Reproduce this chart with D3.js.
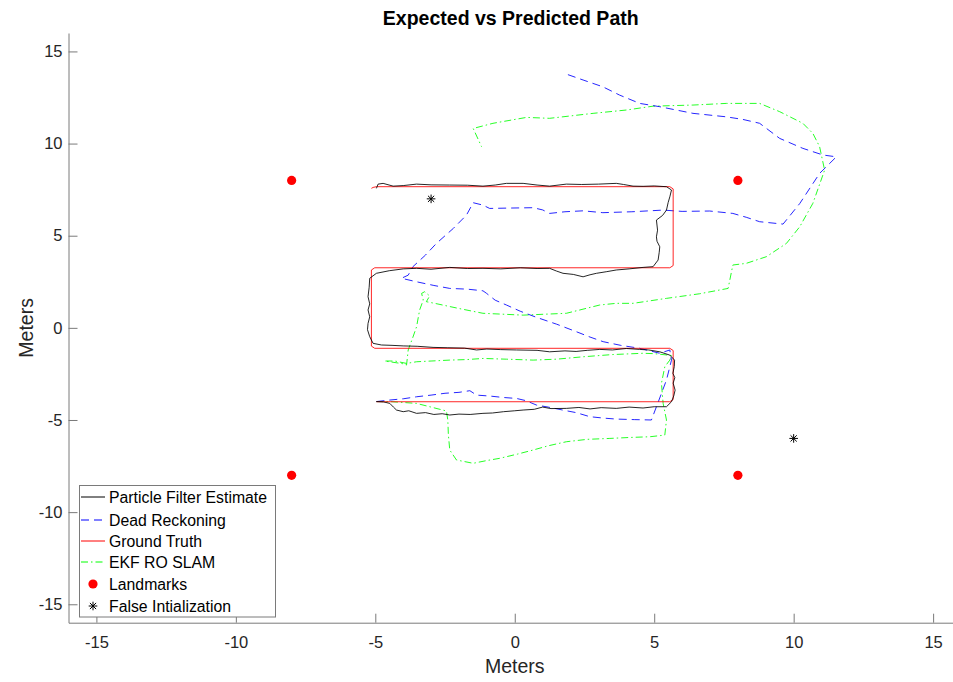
<!DOCTYPE html>
<html>
<head>
<meta charset="utf-8">
<script src="https://cdn.jsdelivr.net/npm/d3@7"></script>
<style>
    body { margin: 0; background: #fff; }
    text { font-family: "Liberation Sans", Arial, sans-serif; }
</style>
</head>
<body>
<div id="chart"></div>
<script>
// values, [x, y] in meters
let groundTruth = [[-4.96,-4.01],[5.56,-4.01],[5.68,-3.89],[5.68,-1.23],[5.56,-1.11],[-5.02,-1.11],[-5.14,-0.99],[-5.14,3.14],[-5.02,3.26],
    [5.56,3.26],[5.68,3.38],[5.68,7.54],[5.56,7.66],[-4.96,7.66],[-5.08,7.62],[-5.14,7.57]];

let particleFilter = [[-4.96,-4.0],[-4.7,-4.02],[-4.48,-4.1],[-4.35,-4.3],[-4.24,-4.46],[-4.0,-4.55],[-3.8,-4.5],[-3.52,-4.64],[-3.2,-4.6],
    [-2.9,-4.7],[-2.6,-4.66],[-2.33,-4.73],[-2.0,-4.68],[-1.6,-4.7],[-1.14,-4.64],[-0.8,-4.62],[-0.4,-4.55],[0.0,-4.5],[0.3,-4.46],
    [0.7,-4.42],[1.0,-4.3],[1.3,-4.38],[1.85,-4.37],[2.3,-4.32],[2.7,-4.4],[3.1,-4.33],[3.64,-4.37],[4.1,-4.3],[4.6,-4.35],[5.0,-4.28],
    [5.44,-4.28],[5.62,-4.01],[5.7,-3.7],[5.75,-3.38],[5.68,-3.0],[5.74,-2.7],[5.67,-2.47],[5.72,-2.1],[5.73,-1.75],[5.56,-1.48],
    [5.2,-1.3],[4.8,-1.2],[4.48,-1.17],[4.0,-1.12],[3.5,-1.2],[3.05,-1.17],[2.6,-1.22],[2.2,-1.28],[1.8,-1.25],[1.25,-1.3],[0.8,-1.22],
    [0.06,-1.2],[-0.5,-1.18],[-1.0,-1.15],[-1.37,-1.2],[-1.8,-1.1],[-2.4,-1.08],[-2.93,-1.06],[-3.5,-1.0],[-4.0,-0.98],[-4.4,-0.95],
    [-4.78,-0.93],[-5.08,-0.84],[-5.2,-0.48],[-5.28,-0.1],[-5.26,0.24],[-5.2,0.6],[-5.26,0.97],[-5.2,1.3],[-5.26,1.69],[-5.22,2.2],
    [-5.2,2.69],[-4.96,2.96],[-4.5,3.1],[-4.0,3.2],[-3.52,3.23],[-3.0,3.18],[-2.33,3.28],[-1.7,3.22],[-1.14,3.23],[-0.5,3.2],[0.2,3.26],
    [0.8,3.22],[1.25,3.23],[1.5,3.08],[1.73,2.96],[2.1,2.9],[2.45,2.77],[2.7,2.88],[2.93,2.96],[3.3,3.05],[3.64,3.14],[4.1,3.2],
    [4.6,3.28],[4.96,3.32],[5.14,3.68],[5.18,4.1],[5.2,4.4],[5.1,4.7],[5.08,4.94],[5.12,5.3],[5.08,5.85],[5.3,6.1],[5.44,6.39],
    [5.5,6.8],[5.56,7.11],[5.62,7.48],[5.44,7.66],[5.0,7.7],[4.6,7.68],[4.24,7.69],[3.9,7.78],[3.64,7.84],[3.0,7.8],[2.4,7.78],
    [1.85,7.8],[1.25,7.69],[0.8,7.75],[0.3,7.84],[-0.3,7.84],[-0.7,7.75],[-1.14,7.69],[-1.7,7.74],[-2.33,7.75],[-3.0,7.76],
    [-3.52,7.8],[-4.0,7.72],[-4.36,7.69],[-4.72,7.84],[-4.9,7.8],[-4.96,7.57]];

let deadReckoning = [[-4.96,-4.0],[-4.5,-3.92],[-4.0,-3.85],[-3.52,-3.74],[-3.0,-3.65],[-2.5,-3.55],[-2.0,-3.5],[-1.61,-3.41],[-1.37,-3.65],
    [-0.9,-3.7],[-0.4,-3.78],[0.06,-3.83],[0.4,-3.95],[0.78,-4.19],[1.2,-4.3],[1.72,-4.46],[2.2,-4.6],[2.69,-4.82],[3.2,-4.9],
    [3.64,-4.95],[4.3,-4.98],[4.9,-5.0],[5.08,-4.28],[5.25,-3.6],[5.44,-2.83],[5.62,-1.75],[5.56,-1.2],[5.2,-1.38],[4.48,-1.11],
    [3.8,-0.95],[3.17,-0.75],[2.7,-0.5],[2.21,-0.21],[1.5,0.2],[0.78,0.57],[0.2,0.9],[-0.3,1.24],[-0.7,1.5],[-1.01,1.87],[-1.14,2.01],
    [-1.7,2.1],[-2.33,2.14],[-2.9,2.3],[-3.52,2.5],[-4.06,2.69],[-3.82,2.86],[-3.65,3.32],[-3.2,3.95],[-2.81,4.58],[-2.2,5.4],
    [-1.73,6.12],[-1.49,6.79],[-1.14,6.66],[-0.9,6.48],[-0.2,6.5],[0.66,6.52],[1.0,6.4],[1.25,6.21],[1.8,6.3],[2.45,6.35],[3.16,6.25],
    [4.2,6.3],[5.32,6.39],[6.0,6.32],[6.99,6.34],[7.82,6.21],[8.3,6.0],[8.78,5.76],[9.62,5.63],[10.22,6.75],[10.93,8.38],[11.05,8.56],
    [11.53,9.28],[11.05,9.38],[10.33,9.74],[9.5,10.28],[8.78,11.1],[8.18,11.31],[7.59,11.45],[6.39,11.64],[5.2,12.0],[4.48,12.18],
    [3.76,12.63],[3.16,13.08],[2.45,13.45],[1.85,13.77]];

let ekfSlam = [[-4.96,-4.0],[-4.5,-4.0],[-4.0,-4.05],[-3.52,-4.1],[-3.0,-4.3],[-2.45,-4.51],[-2.4,-5.0],[-2.38,-5.8],[-2.33,-6.63],
    [-2.09,-7.17],[-1.49,-7.35],[-1.0,-7.2],[-0.54,-7.08],[0.1,-6.85],[0.66,-6.63],[1.2,-6.4],[1.85,-6.18],[2.6,-6.05],[3.41,-6.0],
    [4.1,-5.95],[4.84,-5.91],[5.38,-5.82],[5.44,-5.0],[5.32,-4.1],[5.26,-3.01],[5.38,-2.11],[5.56,-1.75],[5.62,-1.5],[5.0,-1.4],
    [4.6,-1.38],[3.5,-1.45],[2.45,-1.57],[1.5,-1.7],[0.66,-1.75],[-0.3,-1.7],[-1.14,-1.66],[-1.7,-1.72],[-2.33,-1.75],[-3.0,-1.8],
    [-3.52,-1.84],[-3.88,-1.93],[-4.3,-1.8],[-4.66,-1.8],[-4.0,-1.95],[-3.88,-2.02],[-3.82,-1.2],[-3.65,-0.5],[-3.52,0.06],[-3.41,0.97],
    [-3.28,1.51],[-3.34,1.87],[-3.23,1.96],[-3.05,1.73],[-3.17,1.42],[-2.87,1.33],[-2.0,1.05],[-1.14,0.79],[0.3,0.69],[1.85,0.79],
    [3.05,1.24],[3.64,1.33],[4.24,1.33],[5.44,1.6],[6.63,1.85],[7.65,2.14],[7.82,3.41],[8.3,3.5],[9.02,3.86],[9.74,4.58],[10.22,5.49],
    [10.69,6.76],[11.11,8.56],[10.93,9.83],[10.69,10.55],[10.33,11.1],[9.5,11.73],[8.78,12.18],[7.59,12.18],[6.39,12.09],[4.96,12.03],
    [4.0,11.82],[2.81,11.64],[1.25,11.37],[0.42,11.42],[-0.78,11.1],[-1.49,10.82],[-1.19,9.83]];

let landmarks = [[-8, 8], [8, 8], [-8, -8], [8, -8]];
let falseInit = [[-3, 7], [10, -6]];

let tickValues = [-15, -10, -5, 0, 5, 10, 15];
let legendLabels = ['Particle Filter Estimate', 'Dead Reckoning', 'Ground Truth', 'EKF RO SLAM', 'Landmarks', 'False Intialization'];

let margin = {top: 33, right: -8, bottom: 59.3, left: 68.5};
let width = 953 - margin.left - margin.right;
let height = 682 - margin.top - margin.bottom;

let svg = d3.select('#chart')
    .append('svg')
    .attr('width', 953)
    .attr('height', 682);

let g = svg.append('g').attr('transform', 'translate(' + margin.left + ',' + margin.top + ')');

//Scales
let x = d3.scaleLinear().domain([-16, 16]).range([0, width]);
let y = d3.scaleLinear().domain([-16, 16]).range([height, 0]);

//X Axis
let xAxisCall = d3.axisBottom(x).tickValues(tickValues).tickSizeInner(-9).tickSizeOuter(0).tickPadding(14)
    .tickFormat(function (d) { return String(d); });
let xAxis = g.append('g').attr('transform', 'translate(0,' + height + ')').call(xAxisCall);

//Y Axis
let yAxisCall = d3.axisLeft(y).tickValues(tickValues).tickSizeInner(-9).tickSizeOuter(0).tickPadding(6)
    .tickFormat(function (d) { return String(d); });
let yAxis = g.append('g').call(yAxisCall);

[xAxis, yAxis].forEach(function (a) {
    a.selectAll('path, line').attr('stroke', '#7a7a7a');
    a.selectAll('text').attr('font-size', '16.5px').attr('fill', '#262626')
        .attr('font-family', '"Liberation Sans", Arial, sans-serif');
});

//Labels
g.append('text')
    .attr('x', width / 2 - 4)
    .attr('y', -8)
    .attr('text-anchor', 'middle')
    .attr('font-size', '19.5px')
    .attr('font-weight', 'bold')
    .text('Expected vs Predicted Path');

g.append('text')
    .attr('x', x(0))
    .attr('y', height + 50)
    .attr('text-anchor', 'middle')
    .attr('font-size', '19.5px')
    .attr('fill', '#262626')
    .text('Meters');

g.append('text')
    .attr('x', -y(0))
    .attr('y', -35.5)
    .attr('text-anchor', 'middle')
    .attr('font-size', '19.5px')
    .attr('fill', '#262626')
    .attr('transform', 'rotate(-90)')
    .text('Meters');

//Paths
let line = d3.line()
    .x(function (d) { return x(d[0]); })
    .y(function (d) { return y(d[1]); });

let series = [
    {data: ekfSlam, color: '#00ff00', dash: '7,3,1.5,3'},
    {data: deadReckoning, color: '#0000ff', dash: '8,5'},
    {data: groundTruth, color: '#ff0000', dash: null},
    {data: particleFilter, color: '#000000', dash: null}
];

series.forEach(function (s) {
    g.append('path')
        .datum(s.data)
        .attr('fill', 'none')
        .attr('stroke', s.color)
        .attr('stroke-width', 1)
        .attr('stroke-opacity', 0.85)
        .attr('stroke-dasharray', s.dash)
        .attr('d', line);
});

//Markers
function asterisk(r) {
    let d = r * 0.72;
    return 'M0,' + (-r) + 'L0,' + r + 'M' + (-r) + ',0L' + r + ',0' +
        'M' + (-d) + ',' + (-d) + 'L' + d + ',' + d + 'M' + (-d) + ',' + d + 'L' + d + ',' + (-d);
}

g.selectAll('circle.landmark').data(landmarks).enter()
    .append('circle')
    .attr('class', 'landmark')
    .attr('cx', function (d) { return x(d[0]); })
    .attr('cy', function (d) { return y(d[1]); })
    .attr('r', 4.6)
    .attr('fill', '#ff0000');

g.selectAll('path.star').data(falseInit).enter()
    .append('path')
    .attr('class', 'star')
    .attr('transform', function (d) { return 'translate(' + x(d[0]) + ',' + y(d[1]) + ')'; })
    .attr('d', asterisk(4.3))
    .attr('stroke', '#000')
    .attr('stroke-width', 1);

//Legend
let legend = svg.append('g').attr('transform', 'translate(79,485)');
legend.append('rect')
    .attr('x', 0.5).attr('y', 0.5)
    .attr('width', 196).attr('height', 131.5)
    .attr('fill', '#fff')
    .attr('stroke', '#7a7a7a');

let legendY = [12, 35, 56, 77, 99, 121];
let legendItems = [
    {type: 'line', color: '#000000', dash: null},
    {type: 'line', color: '#0000ff', dash: '8,5'},
    {type: 'line', color: '#ff0000', dash: null},
    {type: 'line', color: '#00ff00', dash: '7,3,1.5,3'},
    {type: 'dot'},
    {type: 'star'}
];

legendItems.forEach(function (item, i) {
    let ly = legendY[i];
    if (item.type === 'line') {
        legend.append('line')
            .attr('x1', 2).attr('x2', 26)
            .attr('y1', ly).attr('y2', ly)
            .attr('stroke', item.color)
            .attr('stroke-dasharray', item.dash);
    } else if (item.type === 'dot') {
        legend.append('circle').attr('cx', 14).attr('cy', ly).attr('r', 4.6).attr('fill', '#ff0000');
    } else {
        legend.append('path').attr('transform', 'translate(14,' + ly + ')')
            .attr('d', asterisk(4.3)).attr('stroke', '#000');
    }
    legend.append('text')
        .attr('x', 30)
        .attr('y', ly)
        .attr('dy', '0.36em')
        .attr('font-size', '15.8px')
        .attr('fill', '#000')
        .text(legendLabels[i]);
});
</script>
</body>
</html>
